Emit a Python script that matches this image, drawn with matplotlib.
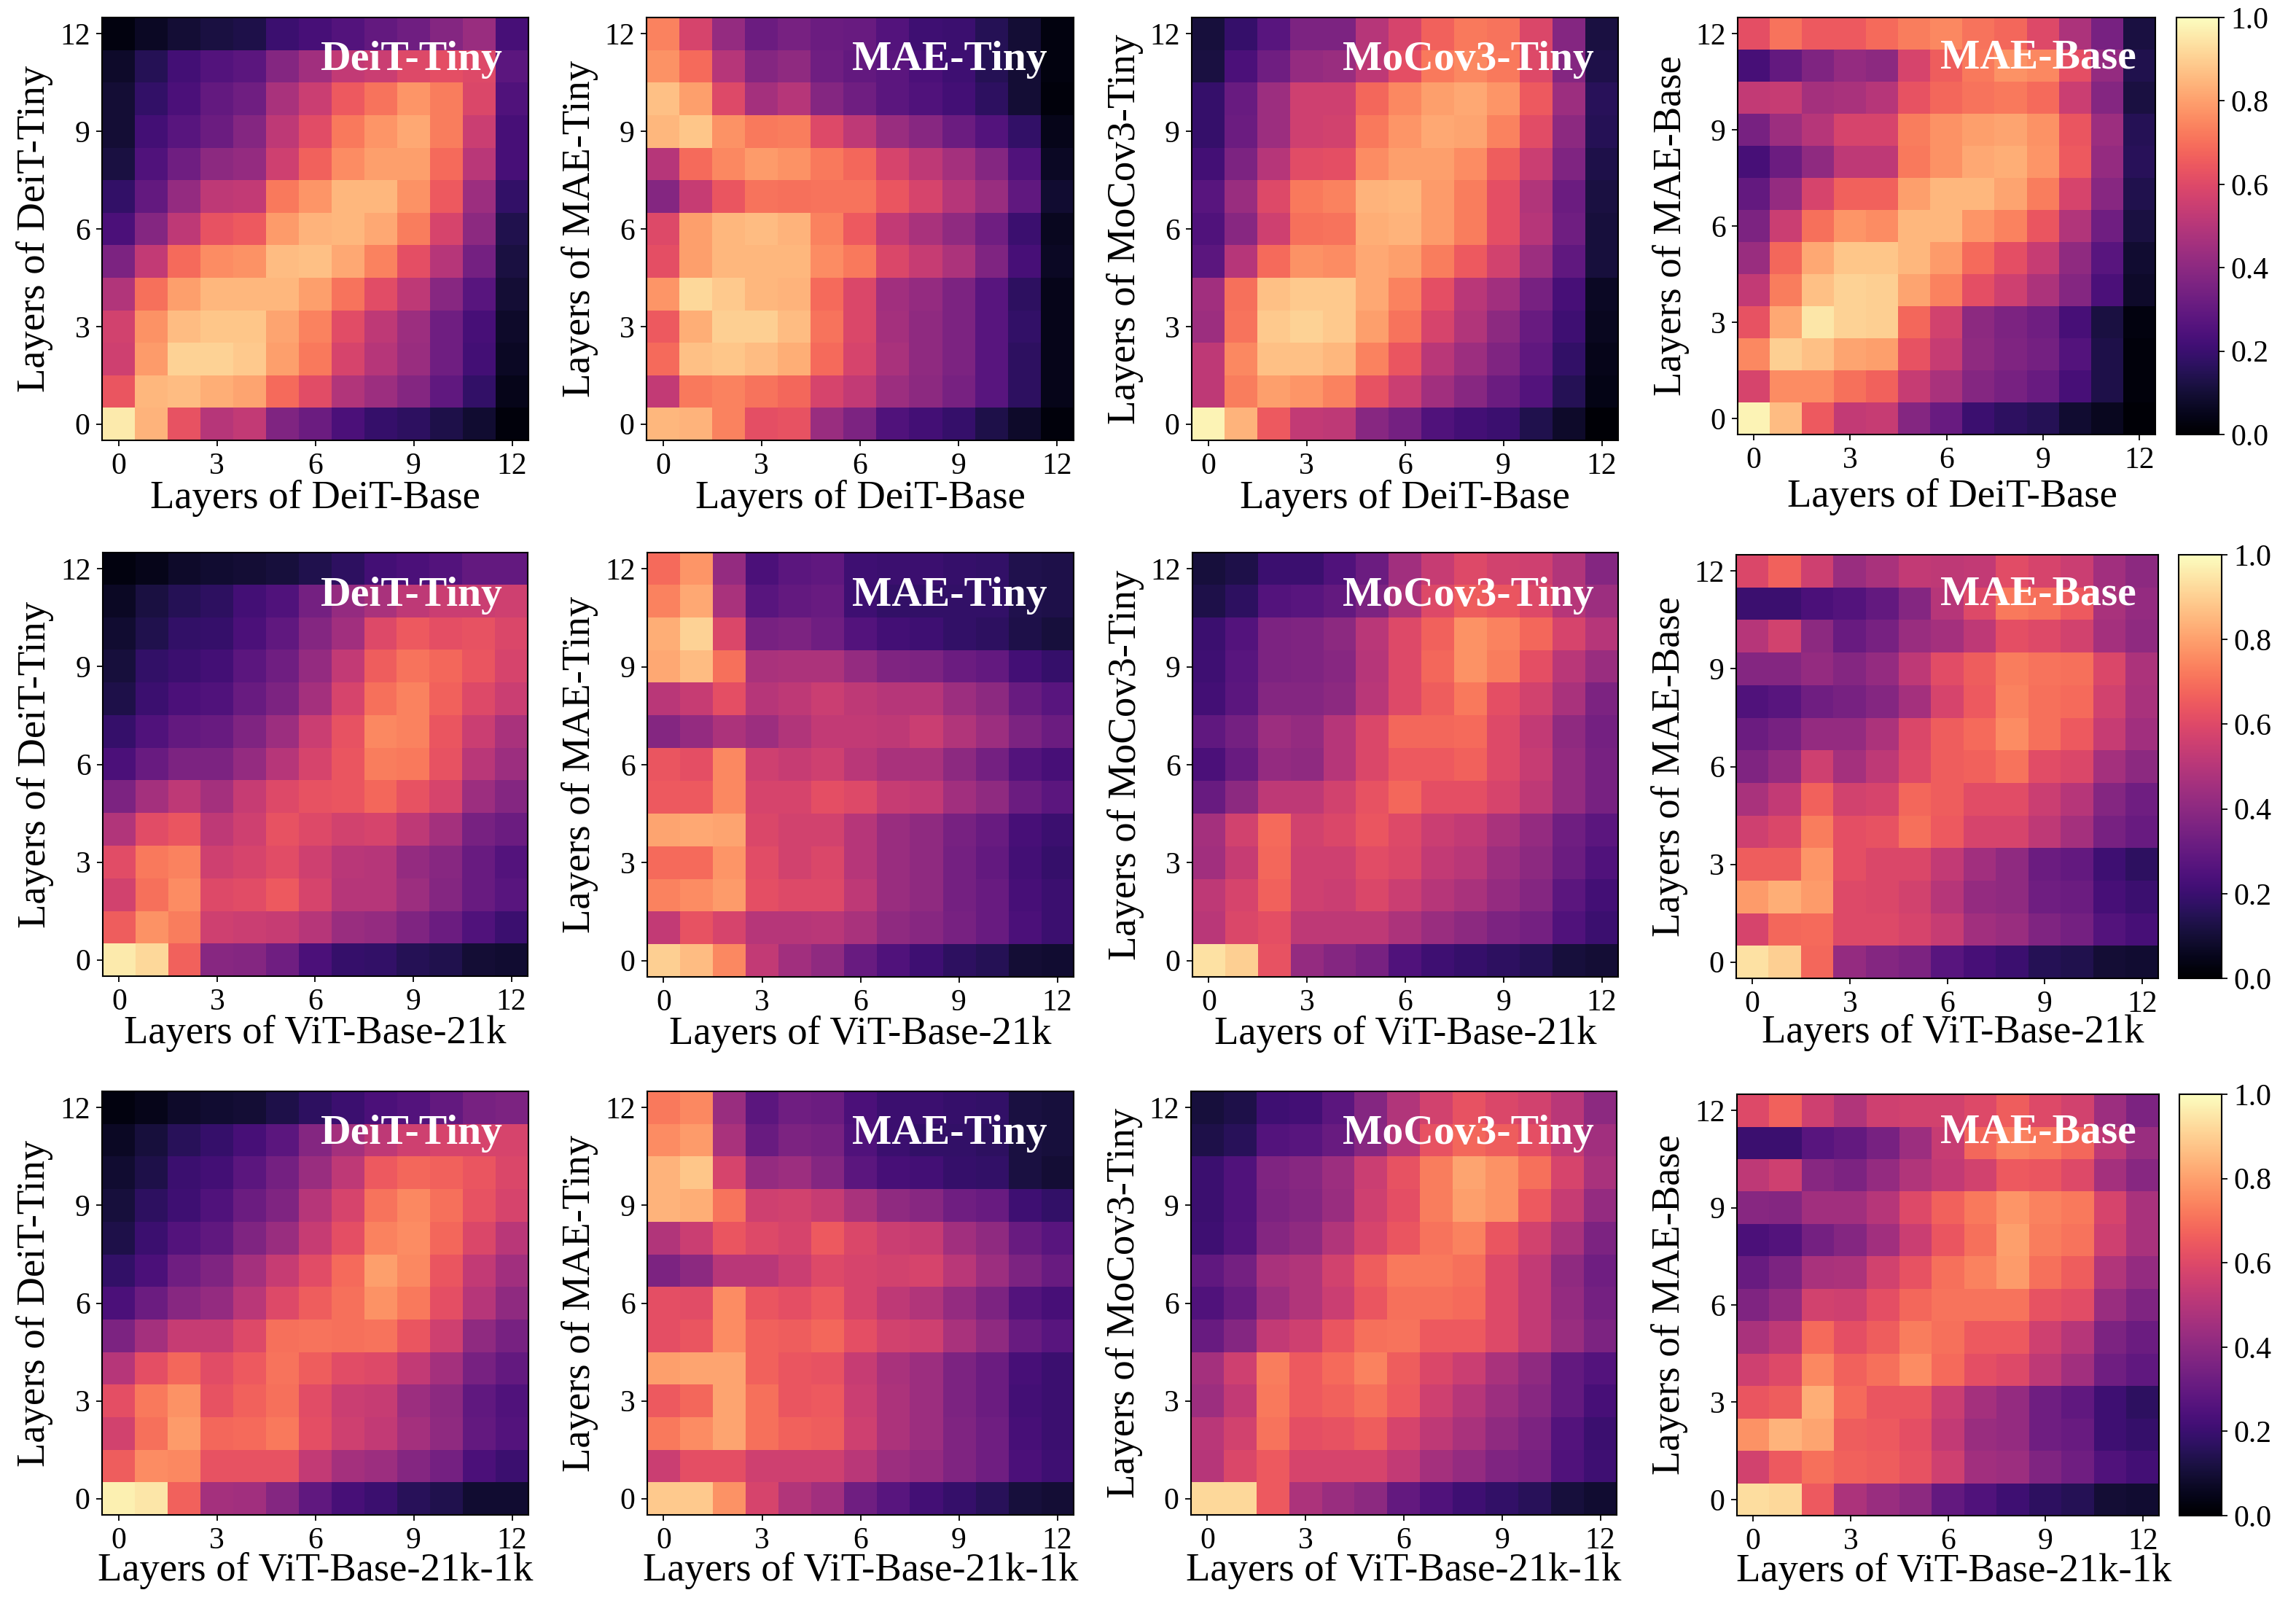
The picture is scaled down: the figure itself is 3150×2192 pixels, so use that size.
import numpy as np
import matplotlib
matplotlib.use("Agg")
import matplotlib.pyplot as plt

plt.rcParams['font.family'] = ['Liberation Serif', 'DejaVu Serif']

# Each matrix: rows listed from layer 12 (top) down to layer 0; columns layer 0..12
deit_deit_tiny = [
 [.03,.07,.10,.12,.13,.20,.23,.26,.30,.33,.38,.43,.23],
 [.08,.15,.22,.26,.28,.38,.45,.53,.55,.60,.62,.60,.28],
 [.10,.18,.24,.30,.33,.47,.55,.65,.71,.78,.73,.59,.25],
 [.10,.22,.27,.32,.38,.52,.61,.72,.78,.82,.73,.55,.23],
 [.12,.25,.33,.40,.42,.56,.67,.76,.80,.80,.69,.51,.23],
 [.18,.30,.42,.52,.53,.72,.78,.85,.85,.77,.65,.44,.18],
 [.24,.38,.52,.63,.65,.79,.84,.85,.82,.73,.58,.40,.14],
 [.36,.53,.69,.76,.77,.86,.87,.82,.74,.62,.50,.34,.12],
 [.49,.70,.80,.85,.85,.85,.80,.71,.61,.52,.39,.27,.10],
 [.57,.77,.86,.88,.88,.81,.74,.61,.52,.44,.33,.23,.08],
 [.56,.79,.91,.91,.89,.80,.72,.58,.50,.43,.33,.22,.07],
 [.64,.85,.86,.83,.81,.69,.61,.49,.44,.38,.29,.18,.05],
 [.96,.84,.63,.50,.53,.37,.32,.24,.19,.17,.13,.09,.02],
]
deit_mae_tiny = [
 [.74,.58,.42,.32,.35,.32,.31,.26,.21,.20,.15,.10,.03],
 [.77,.69,.50,.38,.41,.33,.30,.28,.24,.21,.15,.10,.03],
 [.87,.80,.60,.46,.50,.38,.33,.28,.25,.22,.17,.10,.02],
 [.85,.88,.77,.72,.73,.60,.52,.43,.39,.32,.26,.18,.05],
 [.50,.69,.75,.79,.77,.72,.68,.58,.52,.46,.38,.25,.07],
 [.38,.54,.64,.71,.70,.71,.71,.64,.58,.50,.43,.29,.09],
 [.60,.80,.85,.86,.84,.74,.65,.53,.47,.41,.33,.20,.06],
 [.62,.80,.85,.85,.85,.76,.72,.59,.54,.48,.37,.23,.07],
 [.78,.92,.89,.85,.84,.69,.59,.45,.42,.36,.27,.17,.05],
 [.65,.83,.90,.90,.86,.71,.59,.46,.41,.36,.27,.18,.05],
 [.69,.87,.88,.86,.83,.69,.58,.47,.41,.36,.27,.17,.05],
 [.53,.72,.74,.71,.68,.58,.53,.44,.40,.35,.27,.17,.05],
 [.85,.84,.74,.62,.63,.43,.36,.25,.22,.19,.13,.08,.02],
]
deit_moco_tiny = [
 [.11,.19,.27,.36,.36,.50,.58,.67,.72,.71,.59,.38,.12],
 [.12,.24,.33,.42,.43,.52,.62,.72,.75,.72,.60,.38,.13],
 [.19,.31,.44,.56,.56,.68,.75,.80,.82,.78,.65,.44,.16],
 [.19,.32,.44,.56,.57,.72,.78,.82,.81,.74,.61,.40,.15],
 [.22,.36,.50,.61,.62,.76,.80,.80,.76,.66,.55,.37,.13],
 [.27,.43,.60,.72,.74,.84,.85,.79,.73,.62,.49,.32,.12],
 [.25,.39,.56,.70,.71,.83,.84,.79,.73,.62,.50,.33,.11],
 [.28,.50,.69,.77,.76,.82,.80,.73,.65,.57,.44,.29,.11],
 [.45,.70,.87,.89,.89,.82,.74,.62,.51,.45,.35,.23,.07],
 [.44,.71,.89,.91,.89,.80,.71,.58,.49,.40,.31,.21,.06],
 [.52,.75,.87,.87,.85,.74,.64,.51,.44,.37,.29,.18,.05],
 [.52,.73,.80,.78,.74,.63,.55,.45,.39,.32,.26,.15,.04],
 [.98,.84,.65,.53,.52,.39,.34,.25,.22,.20,.14,.08,.01],
]
deit_mae_base = [
 [.62,.71,.65,.65,.69,.73,.75,.71,.68,.60,.48,.35,.12],
 [.23,.30,.37,.42,.40,.58,.66,.72,.77,.75,.62,.42,.14],
 [.53,.54,.46,.47,.50,.63,.68,.71,.72,.69,.55,.38,.12],
 [.35,.44,.50,.58,.58,.73,.77,.80,.81,.77,.64,.44,.15],
 [.23,.32,.41,.52,.52,.72,.77,.82,.83,.78,.65,.42,.16],
 [.30,.42,.58,.67,.67,.80,.85,.85,.81,.73,.58,.39,.14],
 [.36,.55,.70,.78,.76,.85,.85,.78,.74,.64,.49,.33,.12],
 [.43,.68,.82,.88,.88,.85,.79,.69,.62,.54,.41,.27,.09],
 [.53,.73,.87,.91,.90,.81,.74,.62,.56,.48,.38,.24,.08],
 [.63,.82,.95,.91,.90,.68,.57,.40,.36,.33,.23,.12,.03],
 [.75,.90,.87,.81,.80,.63,.54,.41,.37,.34,.26,.13,.02],
 [.58,.76,.76,.70,.67,.54,.47,.38,.35,.31,.23,.13,.02],
 [.98,.86,.65,.53,.54,.38,.31,.20,.17,.15,.09,.06,.01],
]
vit21k_deit_tiny = [
 [.03,.05,.08,.09,.10,.11,.14,.17,.22,.24,.26,.30,.30],
 [.07,.12,.15,.17,.22,.25,.34,.42,.47,.52,.55,.55,.56],
 [.09,.14,.18,.19,.24,.29,.38,.45,.60,.65,.62,.63,.59],
 [.11,.18,.20,.22,.28,.33,.42,.53,.66,.71,.68,.64,.58],
 [.13,.20,.24,.25,.31,.36,.46,.58,.70,.74,.67,.60,.55],
 [.19,.25,.30,.31,.37,.44,.55,.63,.75,.74,.64,.55,.47],
 [.24,.31,.36,.36,.42,.50,.58,.64,.73,.72,.63,.51,.44],
 [.36,.46,.52,.46,.54,.60,.63,.64,.68,.63,.58,.44,.38],
 [.49,.61,.64,.52,.56,.63,.60,.57,.58,.52,.46,.35,.32],
 [.61,.72,.74,.56,.58,.61,.56,.51,.50,.42,.39,.31,.26],
 [.57,.70,.76,.60,.61,.65,.58,.50,.50,.44,.38,.31,.27],
 [.66,.77,.73,.56,.55,.54,.50,.43,.42,.37,.32,.25,.20],
 [.96,.92,.67,.39,.38,.33,.24,.19,.18,.15,.14,.10,.09],
]
vit21k_mae_tiny = [
 [.69,.78,.42,.24,.28,.29,.21,.20,.20,.19,.18,.14,.13],
 [.74,.82,.47,.27,.30,.31,.21,.18,.18,.18,.18,.14,.13],
 [.83,.91,.59,.35,.36,.33,.26,.22,.21,.18,.17,.13,.11],
 [.82,.86,.70,.47,.48,.48,.42,.37,.36,.32,.30,.22,.19],
 [.51,.54,.62,.50,.52,.55,.52,.50,.50,.44,.40,.31,.27],
 [.38,.42,.48,.44,.49,.53,.53,.52,.55,.49,.44,.36,.32],
 [.64,.62,.75,.56,.54,.56,.51,.47,.47,.40,.34,.26,.23],
 [.65,.65,.75,.58,.58,.62,.60,.54,.53,.45,.41,.32,.28],
 [.81,.82,.81,.59,.57,.57,.50,.43,.41,.35,.31,.23,.20],
 [.69,.69,.78,.61,.57,.59,.50,.43,.41,.34,.30,.22,.19],
 [.74,.76,.79,.62,.60,.60,.52,.43,.41,.34,.31,.23,.20],
 [.53,.63,.58,.50,.50,.51,.47,.41,.39,.35,.31,.24,.20],
 [.90,.86,.75,.53,.45,.41,.31,.25,.21,.17,.15,.10,.09],
]
vit21k_moco_tiny = [
 [.11,.13,.20,.20,.25,.32,.45,.54,.60,.57,.56,.49,.38],
 [.13,.17,.26,.27,.30,.36,.48,.60,.66,.64,.60,.50,.44],
 [.20,.26,.36,.37,.40,.51,.60,.67,.77,.74,.68,.58,.50],
 [.21,.27,.36,.37,.39,.50,.60,.68,.77,.73,.62,.51,.43],
 [.22,.28,.38,.38,.40,.51,.60,.66,.72,.62,.57,.47,.36],
 [.29,.34,.44,.42,.50,.59,.68,.68,.69,.60,.53,.41,.34],
 [.24,.31,.42,.41,.50,.59,.65,.65,.67,.60,.54,.42,.35],
 [.31,.40,.52,.52,.57,.63,.68,.62,.62,.58,.52,.42,.35],
 [.46,.57,.69,.57,.59,.64,.60,.55,.53,.47,.42,.33,.28],
 [.45,.54,.68,.56,.56,.61,.59,.53,.51,.44,.40,.32,.25],
 [.52,.58,.67,.56,.55,.59,.55,.50,.47,.42,.38,.28,.22],
 [.51,.59,.62,.52,.52,.52,.48,.43,.40,.36,.34,.25,.20],
 [.94,.90,.63,.42,.38,.35,.25,.21,.19,.17,.15,.11,.10],
]
vit21k_mae_base = [
 [.59,.67,.56,.43,.47,.53,.52,.53,.61,.58,.55,.45,.40],
 [.20,.20,.24,.26,.30,.38,.50,.60,.72,.70,.65,.47,.42],
 [.50,.57,.40,.31,.35,.43,.46,.52,.62,.60,.57,.46,.41],
 [.38,.38,.42,.38,.42,.52,.61,.66,.73,.71,.70,.59,.48],
 [.25,.27,.33,.35,.38,.46,.58,.65,.74,.70,.69,.57,.47],
 [.32,.35,.42,.42,.48,.59,.66,.69,.76,.70,.65,.54,.45],
 [.37,.42,.56,.46,.52,.60,.66,.67,.71,.61,.59,.46,.40],
 [.47,.53,.67,.57,.58,.68,.66,.61,.61,.55,.50,.38,.33],
 [.56,.59,.73,.62,.63,.70,.65,.58,.58,.52,.46,.35,.31],
 [.66,.66,.78,.62,.59,.59,.53,.45,.41,.32,.30,.21,.17],
 [.79,.83,.79,.60,.59,.57,.50,.42,.41,.33,.32,.23,.20],
 [.58,.68,.69,.60,.60,.58,.54,.45,.43,.37,.34,.26,.23],
 [.94,.90,.68,.42,.38,.36,.27,.23,.20,.15,.14,.10,.09],
]
vit1k_deit_tiny = [
 [.03,.05,.08,.09,.10,.13,.17,.20,.24,.26,.30,.35,.36],
 [.07,.11,.16,.19,.23,.28,.38,.46,.52,.56,.58,.58,.58],
 [.09,.13,.20,.22,.28,.34,.43,.52,.65,.68,.67,.64,.59],
 [.11,.17,.21,.25,.32,.37,.50,.58,.71,.75,.70,.63,.58],
 [.13,.20,.26,.29,.37,.43,.54,.62,.74,.76,.68,.59,.51],
 [.18,.24,.33,.37,.46,.54,.61,.69,.80,.75,.64,.53,.45],
 [.24,.32,.39,.42,.51,.60,.66,.70,.77,.72,.62,.50,.41],
 [.36,.46,.54,.54,.60,.70,.71,.70,.71,.64,.56,.41,.35],
 [.50,.62,.68,.61,.65,.71,.66,.61,.60,.53,.46,.35,.30],
 [.62,.72,.77,.63,.67,.70,.61,.55,.54,.44,.40,.29,.25],
 [.57,.70,.79,.68,.69,.72,.62,.56,.53,.46,.41,.30,.26],
 [.66,.76,.75,.63,.63,.63,.53,.46,.44,.38,.34,.24,.20],
 [.97,.95,.67,.46,.45,.38,.29,.23,.20,.16,.14,.09,.09],
]
vit1k_mae_tiny = [
 [.72,.75,.43,.28,.33,.32,.24,.20,.20,.19,.18,.12,.11],
 [.76,.79,.47,.31,.36,.35,.25,.20,.18,.18,.17,.12,.11],
 [.84,.88,.58,.42,.44,.38,.28,.23,.22,.19,.18,.12,.10],
 [.84,.83,.71,.56,.57,.54,.47,.41,.39,.33,.31,.21,.18],
 [.49,.55,.64,.60,.58,.65,.59,.55,.54,.45,.41,.31,.27],
 [.36,.40,.51,.51,.55,.60,.58,.57,.58,.51,.44,.36,.31],
 [.62,.61,.76,.64,.62,.65,.58,.52,.49,.42,.36,.26,.23],
 [.62,.64,.76,.67,.66,.68,.62,.57,.56,.47,.41,.31,.27],
 [.80,.81,.81,.67,.64,.63,.54,.47,.44,.36,.32,.23,.20],
 [.65,.68,.81,.70,.64,.65,.55,.48,.44,.36,.32,.22,.20],
 [.72,.76,.81,.70,.67,.66,.56,.48,.44,.37,.33,.23,.20],
 [.55,.62,.62,.56,.56,.56,.51,.44,.42,.37,.33,.24,.21],
 [.89,.89,.77,.58,.49,.45,.33,.27,.22,.19,.16,.11,.10],
]
vit1k_moco_tiny = [
 [.11,.13,.21,.22,.28,.38,.49,.57,.63,.59,.57,.51,.40],
 [.13,.16,.26,.27,.31,.39,.50,.63,.68,.66,.62,.53,.45],
 [.20,.25,.37,.39,.44,.55,.63,.73,.81,.77,.70,.58,.47],
 [.20,.25,.36,.38,.43,.56,.62,.73,.80,.77,.65,.54,.42],
 [.21,.26,.38,.41,.49,.58,.64,.71,.74,.64,.57,.47,.36],
 [.29,.34,.47,.49,.57,.66,.72,.72,.70,.60,.53,.41,.33],
 [.25,.31,.44,.49,.55,.64,.70,.70,.69,.60,.53,.42,.34],
 [.31,.38,.53,.56,.64,.70,.71,.65,.65,.60,.53,.43,.36],
 [.46,.56,.73,.65,.69,.74,.66,.59,.55,.47,.41,.30,.26],
 [.44,.53,.72,.65,.67,.70,.65,.56,.50,.44,.39,.30,.23],
 [.51,.57,.71,.62,.63,.66,.58,.52,.47,.41,.36,.26,.20],
 [.50,.59,.65,.58,.58,.58,.53,.46,.42,.37,.35,.25,.21],
 [.92,.92,.65,.48,.43,.40,.30,.25,.21,.18,.16,.11,.09],
]
vit1k_mae_base = [
 [.60,.67,.56,.49,.56,.57,.57,.60,.66,.60,.57,.44,.36],
 [.20,.20,.27,.30,.35,.44,.54,.68,.74,.72,.68,.52,.43],
 [.52,.56,.39,.36,.42,.49,.53,.57,.65,.64,.60,.46,.39],
 [.39,.38,.45,.45,.50,.60,.67,.72,.78,.74,.72,.58,.47],
 [.24,.26,.34,.38,.45,.55,.64,.70,.80,.73,.71,.56,.47],
 [.31,.36,.47,.48,.57,.63,.70,.74,.79,.70,.66,.49,.42],
 [.37,.42,.57,.56,.62,.68,.71,.71,.71,.63,.61,.43,.37],
 [.47,.52,.69,.62,.66,.73,.70,.65,.65,.56,.50,.36,.32],
 [.56,.60,.75,.67,.70,.76,.69,.62,.60,.52,.45,.33,.29],
 [.64,.66,.83,.69,.64,.64,.55,.46,.42,.33,.29,.21,.17],
 [.77,.84,.81,.66,.65,.62,.53,.43,.42,.33,.31,.21,.19],
 [.57,.65,.70,.67,.66,.63,.56,.45,.44,.37,.33,.25,.22],
 [.93,.92,.65,.48,.43,.40,.30,.25,.21,.17,.15,.10,.09],
]

matrices = [
    [deit_deit_tiny, deit_mae_tiny, deit_moco_tiny, deit_mae_base],
    [vit21k_deit_tiny, vit21k_mae_tiny, vit21k_moco_tiny, vit21k_mae_base],
    [vit1k_deit_tiny, vit1k_mae_tiny, vit1k_moco_tiny, vit1k_mae_base],
]
student_names = ['DeiT-Tiny', 'MAE-Tiny', 'MoCov3-Tiny', 'MAE-Base']
teacher_names = ['DeiT-Base', 'ViT-Base-21k', 'ViT-Base-21k-1k']
tick_values = [0, 3, 6, 9, 12]
cbar_ticks = [0.0, 0.2, 0.4, 0.6, 0.8, 1.0]

W, H = 3150, 2192
DPI = 100
# axes boxes in pixels: left, right, top, bottom
boxes = [
    [(140, 725, 24, 604), (887, 1473, 24, 604), (1635, 2220, 24, 604), (2384, 2957, 24, 596)],
    [(141, 724, 758, 1339), (888, 1473, 758, 1340), (1636, 2220, 758, 1340), (2382, 2961, 761, 1342)],
    [(140, 725, 1497, 2078), (888, 1473, 1497, 2078), (1634, 2218, 1497, 2078), (2383, 2962, 1501, 2079)],
]
cbar_boxes = [(2986, 3044, 24, 596), (2989, 3048, 761, 1342), (2990, 3048, 1501, 2079)]
title_right = [690, 1437, 2187, 2931]
title_base = [[95.5, 95.5, 95.5, 94], [831, 831, 831, 829], [1569, 1569, 1569, 1567]]
xlabel_drop = [[93, 93, 93, 99], [92, 92, 92, 88], [90, 90, 90, 90]]

TICK_FS = 30
LABEL_FS = 39.3
TITLE_FS = 41.5
TICK_LEN = 5.8
TICK_W = 1.3
SPINE_W = 1.5


def add_px_axes(fig, box):
    l, r, t, b = box
    return fig.add_axes([l / W, 1 - b / H, (r - l) / W, (b - t) / H])


fig = plt.figure(figsize=(W / DPI, H / DPI), dpi=DPI, facecolor='white')

for i, row in enumerate(matrices):
    for j, m in enumerate(row):
        box = boxes[i][j]
        l, r, t, b = box
        ax = add_px_axes(fig, box)
        im = ax.imshow(np.array(m)[::-1], origin='lower', cmap='magma', vmin=0, vmax=1,
                       aspect='auto', interpolation='nearest')
        ax.set_xticks(tick_values)
        ax.set_yticks(tick_values)
        ax.tick_params(labelsize=TICK_FS, length=TICK_LEN, width=TICK_W, pad=6)
        for s in ax.spines.values():
            s.set_linewidth(SPINE_W)
        w_px, h_px = r - l, b - t
        label_kw = {}
        if j == 3 and i > 0:
            label_kw['bbox'] = dict(facecolor='white', edgecolor='none', pad=1)
        ax.set_xlabel(f'Layers of {teacher_names[i]}', fontsize=LABEL_FS, va='baseline', **label_kw)
        xc = 0.5 + (8 / w_px if j == 3 else 0)
        ax.xaxis.set_label_coords(xc, -xlabel_drop[i][j] / h_px)
        ax.set_ylabel(f'Layers of {student_names[j]}', fontsize=LABEL_FS, va='center')
        ax.yaxis.set_label_coords(-92 / w_px, 0.5)
        fig.text(title_right[j] / W, 1 - title_base[i][j] / H, student_names[j],
                 color='white', fontsize=TITLE_FS, fontweight='bold', ha='right', va='baseline')
    cax = add_px_axes(fig, cbar_boxes[i])
    cb = fig.colorbar(im, cax=cax)
    cb.set_ticks(cbar_ticks)
    cb.ax.tick_params(labelsize=TICK_FS, length=TICK_LEN, width=TICK_W, pad=6)
    cb.outline.set_linewidth(SPINE_W)

fig.savefig('out.png', dpi=DPI, facecolor='white')
